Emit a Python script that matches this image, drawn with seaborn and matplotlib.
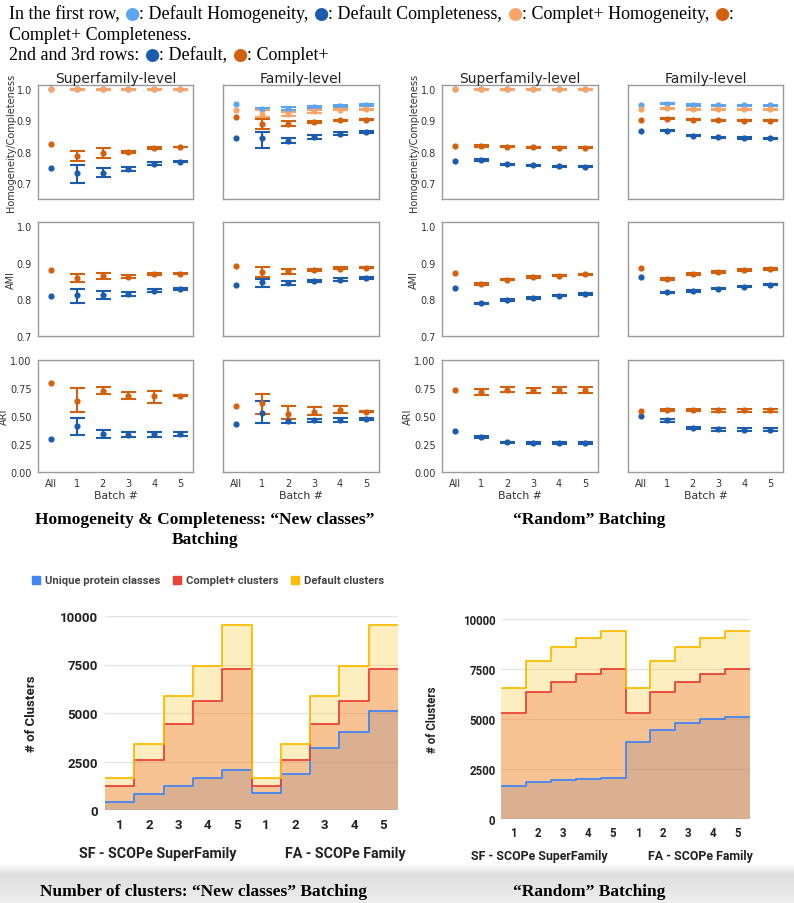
import numpy as np
import matplotlib
matplotlib.use("Agg")
import matplotlib.pyplot as plt
import seaborn as sns
from matplotlib.transforms import IdentityTransform
from matplotlib.patches import Rectangle
from matplotlib.font_manager import FontProperties

sns.set_theme(style="white")
plt.rcParams["font.family"] = ["DejaVu Sans"]

# ---------------- data ----------------
BATCHES = ["All", "1", "2", "3", "4", "5"]

# Row 1 series order: Default Homogeneity, Complet+ Homogeneity, Complet+ Completeness, Default Completeness
NEW_SF_HC_MEAN = [[1.0, 1.0, 1.0, 1.0, 1.0, 1.0],
                  [1.0, 1.0, 1.0, 1.0, 1.0, 1.0],
                  [0.826, 0.786, 0.798, 0.799, 0.812, 0.815],
                  [0.750, 0.733, 0.733, 0.745, 0.762, 0.769]]
NEW_SF_HC_LO = [[0.9985] * 5, [0.9985] * 5,
                [0.770, 0.781, 0.795, 0.809, 0.814],
                [0.700, 0.720, 0.739, 0.757, 0.767]]
NEW_SF_HC_HI = [[1.0] * 5, [1.0] * 5,
                [0.802, 0.811, 0.804, 0.815, 0.817],
                [0.758, 0.750, 0.753, 0.767, 0.771]]

NEW_FA_HC_MEAN = [[0.953, 0.936, 0.938, 0.944, 0.946, 0.948],
                  [0.934, 0.920, 0.921, 0.930, 0.934, 0.936],
                  [0.912, 0.889, 0.890, 0.895, 0.901, 0.902],
                  [0.843, 0.843, 0.836, 0.848, 0.858, 0.863]]
NEW_FA_HC_LO = [[0.932, 0.933, 0.941, 0.944, 0.946],
                [0.910, 0.914, 0.925, 0.932, 0.934],
                [0.874, 0.883, 0.893, 0.898, 0.901],
                [0.813, 0.828, 0.841, 0.854, 0.861]]
NEW_FA_HC_HI = [[0.940, 0.943, 0.947, 0.949, 0.951],
                [0.933, 0.928, 0.934, 0.937, 0.938],
                [0.904, 0.898, 0.897, 0.903, 0.904],
                [0.864, 0.845, 0.854, 0.862, 0.865]]

RAND_SF_HC_MEAN = [[1.0, 1.0, 1.0, 1.0, 1.0, 1.0],
                   [1.0, 1.0, 1.0, 1.0, 1.0, 1.0],
                   [0.818, 0.819, 0.816, 0.814, 0.813, 0.813],
                   [0.771, 0.774, 0.761, 0.757, 0.754, 0.753]]
RAND_SF_HC_LO = [[0.9985] * 5, [0.9985] * 5,
                 [0.817, 0.814, 0.812, 0.811, 0.811],
                 [0.772, 0.759, 0.755, 0.752, 0.751]]
RAND_SF_HC_HI = [[1.0] * 5, [1.0] * 5,
                 [0.821, 0.818, 0.816, 0.815, 0.815],
                 [0.776, 0.763, 0.759, 0.756, 0.755]]

RAND_FA_HC_MEAN = [[0.950, 0.953, 0.949, 0.948, 0.948, 0.948],
                   [0.936, 0.939, 0.936, 0.936, 0.936, 0.936],
                   [0.903, 0.906, 0.902, 0.900, 0.899, 0.899],
                   [0.865, 0.868, 0.852, 0.847, 0.844, 0.843]]
RAND_FA_HC_LO = [[0.951, 0.947, 0.946, 0.946, 0.946],
                 [0.937, 0.934, 0.934, 0.934, 0.934],
                 [0.904, 0.900, 0.898, 0.897, 0.897],
                 [0.866, 0.850, 0.845, 0.842, 0.841]]
RAND_FA_HC_HI = [[0.955, 0.951, 0.950, 0.950, 0.950],
                 [0.941, 0.938, 0.938, 0.938, 0.938],
                 [0.908, 0.904, 0.902, 0.901, 0.901],
                 [0.870, 0.854, 0.849, 0.846, 0.845]]

# Rows 2 and 3 series order: Default, Complet+
NEW_SF_AMI_MEAN = [[0.809, 0.812, 0.812, 0.815, 0.824, 0.828],
                   [0.879, 0.857, 0.864, 0.862, 0.869, 0.870]]
NEW_SF_AMI_LO = [[0.790, 0.802, 0.810, 0.821, 0.826],
                 [0.846, 0.855, 0.859, 0.866, 0.869]]
NEW_SF_AMI_HI = [[0.829, 0.824, 0.820, 0.827, 0.830],
                 [0.870, 0.873, 0.866, 0.872, 0.871]]

NEW_FA_AMI_MEAN = [[0.840, 0.846, 0.845, 0.849, 0.854, 0.858],
                   [0.891, 0.874, 0.876, 0.880, 0.884, 0.886]]
NEW_FA_AMI_LO = [[0.833, 0.840, 0.846, 0.851, 0.856],
                 [0.860, 0.869, 0.877, 0.882, 0.885]]
NEW_FA_AMI_HI = [[0.856, 0.851, 0.852, 0.857, 0.860],
                 [0.888, 0.883, 0.883, 0.887, 0.887]]

RAND_SF_AMI_MEAN = [[0.830, 0.789, 0.798, 0.804, 0.810, 0.814],
                    [0.872, 0.842, 0.854, 0.861, 0.865, 0.868]]
RAND_SF_AMI_LO = [[0.787, 0.796, 0.802, 0.808, 0.812],
                  [0.840, 0.852, 0.859, 0.863, 0.866]]
RAND_SF_AMI_HI = [[0.791, 0.800, 0.806, 0.812, 0.816],
                  [0.844, 0.856, 0.863, 0.867, 0.870]]

RAND_FA_AMI_MEAN = [[0.860, 0.819, 0.823, 0.829, 0.835, 0.840],
                    [0.886, 0.856, 0.869, 0.875, 0.880, 0.883]]
RAND_FA_AMI_LO = [[0.817, 0.821, 0.827, 0.833, 0.838],
                  [0.854, 0.867, 0.873, 0.878, 0.881]]
RAND_FA_AMI_HI = [[0.821, 0.825, 0.831, 0.837, 0.842],
                  [0.858, 0.871, 0.877, 0.882, 0.885]]

NEW_SF_ARI_MEAN = [[0.297, 0.414, 0.335, 0.330, 0.335, 0.340],
                   [0.797, 0.637, 0.725, 0.682, 0.675, 0.683]]
NEW_SF_ARI_LO = [[0.330, 0.300, 0.310, 0.310, 0.325],
                 [0.535, 0.695, 0.648, 0.615, 0.679]]
NEW_SF_ARI_HI = [[0.480, 0.375, 0.355, 0.360, 0.355],
                 [0.750, 0.755, 0.713, 0.720, 0.688]]

NEW_FA_ARI_MEAN = [[0.432, 0.530, 0.455, 0.460, 0.465, 0.475],
                   [0.586, 0.615, 0.520, 0.535, 0.550, 0.540]]
NEW_FA_ARI_LO = [[0.440, 0.435, 0.450, 0.450, 0.465],
                 [0.515, 0.475, 0.505, 0.525, 0.535]]
NEW_FA_ARI_HI = [[0.630, 0.475, 0.475, 0.480, 0.485],
                 [0.695, 0.590, 0.580, 0.585, 0.545]]

RAND_SF_ARI_MEAN = [[0.366, 0.313, 0.265, 0.256, 0.257, 0.258],
                    [0.732, 0.712, 0.730, 0.728, 0.733, 0.733]]
RAND_SF_ARI_LO = [[0.305, 0.258, 0.248, 0.249, 0.250],
                  [0.690, 0.710, 0.705, 0.705, 0.705]]
RAND_SF_ARI_HI = [[0.321, 0.272, 0.264, 0.265, 0.266],
                  [0.737, 0.755, 0.752, 0.760, 0.762]]

RAND_FA_ARI_MEAN = [[0.497, 0.460, 0.393, 0.380, 0.378, 0.378],
                    [0.545, 0.552, 0.552, 0.550, 0.550, 0.550]]
RAND_FA_ARI_LO = [[0.450, 0.380, 0.368, 0.366, 0.366],
                  [0.542, 0.542, 0.540, 0.540, 0.540]]
RAND_FA_ARI_HI = [[0.470, 0.405, 0.392, 0.390, 0.390],
                  [0.560, 0.560, 0.560, 0.560, 0.560]]

# Number of clusters (SF batches 1-5, then FA batches 1-5)
STEP_LABELS = ["1", "2", "3", "4", "5", "1", "2", "3", "4", "5"]
NEW_UNIQUE = [414, 828, 1224, 1638, 2069, 896, 1879, 3172, 4034, 5086]
NEW_COMPLET = [1241, 2552, 4448, 5638, 7259, 1241, 2552, 4448, 5638, 7259]
NEW_DEFAULT = [1638, 3379, 5896, 7448, 9534, 1638, 3379, 5896, 7448, 9534]
RAND_UNIQUE = [1633, 1850, 1967, 2017, 2067, 3850, 4467, 4800, 4983, 5100]
RAND_COMPLET = [5300, 6333, 6867, 7233, 7500, 5300, 6333, 6867, 7233, 7500]
RAND_DEFAULT = [6550, 7900, 8617, 9067, 9400, 6550, 7900, 8617, 9067, 9400]

# ---------------- styling ----------------
C_DH = "#5da4f1"   # Default Homogeneity
C_CH = "#fba468"   # Complet+ Homogeneity
C_CC = "#d3600d"   # Complet+ Completeness / Complet+
C_DC = "#1b5cae"   # Default Completeness / Default
G_BLUE, G_RED, G_YEL = "#4285f4", "#ea4335", "#fbbc04"

W, H = 794, 904
fig = plt.figure(figsize=(W / 100, H / 100), dpi=100)
fig.patch.set_facecolor("white")


def rect(x0, y0, x1, y1):
    return [x0 / W, 1 - y1 / H, (x1 - x0) / W, (y1 - y0) / H]


# soft grey band at the very bottom (screenshot shading)
bg = fig.add_axes(rect(0, 864, W, H), zorder=-5)
grad = np.concatenate([np.linspace(0, 1, 12), np.linspace(1, 0.55, 28)])[:, None]
bg.imshow(1 - 0.13 * grad, cmap="gray", vmin=0, vmax=1, aspect="auto",
          extent=[0, 1, 0, 1], origin="upper")
bg.set_axis_off()

COLS = [(38, 193), (223, 379), (442, 598), (628, 783)]
ROWS = [(86, 200), (223, 337), (361, 473)]
YLIMS = [(0.65, 1.013), (0.70, 1.011), (0.0, 1.0)]
YTICKS = [[0.7, 0.8, 0.9, 1.0], [0.7, 0.8, 0.9, 1.0], [0.0, 0.25, 0.5, 0.75, 1.0]]
YFMT = ["{:.1f}", "{:.1f}", "{:.2f}"]
YLABELS = ["Homogeneity/Completeness", "AMI", "ARI"]
YLAB_X = [-0.145, -0.145, -0.186]

PANEL_DATA = {
    (0, 0): (NEW_SF_HC_MEAN, NEW_SF_HC_LO, NEW_SF_HC_HI),
    (0, 1): (NEW_FA_HC_MEAN, NEW_FA_HC_LO, NEW_FA_HC_HI),
    (0, 2): (RAND_SF_HC_MEAN, RAND_SF_HC_LO, RAND_SF_HC_HI),
    (0, 3): (RAND_FA_HC_MEAN, RAND_FA_HC_LO, RAND_FA_HC_HI),
    (1, 0): (NEW_SF_AMI_MEAN, NEW_SF_AMI_LO, NEW_SF_AMI_HI),
    (1, 1): (NEW_FA_AMI_MEAN, NEW_FA_AMI_LO, NEW_FA_AMI_HI),
    (1, 2): (RAND_SF_AMI_MEAN, RAND_SF_AMI_LO, RAND_SF_AMI_HI),
    (1, 3): (RAND_FA_AMI_MEAN, RAND_FA_AMI_LO, RAND_FA_AMI_HI),
    (2, 0): (NEW_SF_ARI_MEAN, NEW_SF_ARI_LO, NEW_SF_ARI_HI),
    (2, 1): (NEW_FA_ARI_MEAN, NEW_FA_ARI_LO, NEW_FA_ARI_HI),
    (2, 2): (RAND_SF_ARI_MEAN, RAND_SF_ARI_LO, RAND_SF_ARI_HI),
    (2, 3): (RAND_FA_ARI_MEAN, RAND_FA_ARI_LO, RAND_FA_ARI_HI),
}

for (r, c), (means, los, his) in PANEL_DATA.items():
    x0, x1 = COLS[c]
    y0, y1 = ROWS[r]
    ax = fig.add_axes(rect(x0, y0, x1, y1))
    colors = [C_DH, C_CH, C_CC, C_DC] if r == 0 else [C_DC, C_CC]
    xs = np.arange(len(BATCHES))
    for m, lo, hi, col in zip(means, los, his, colors):
        m = np.asarray(m, float)
        lo = np.asarray(lo, float)
        hi = np.asarray(hi, float)
        ax.errorbar(xs[1:], m[1:], yerr=[m[1:] - lo, hi - m[1:]], fmt="none",
                    ecolor=col, elinewidth=1.5, capsize=5.4, capthick=1.5, zorder=2)
        sns.scatterplot(x=xs, y=m, color=col, s=20, linewidth=0, ax=ax, zorder=3)
    ax.set_xlim(-0.5, 5.5)
    ax.set_ylim(*YLIMS[r])
    ax.set_xticks(xs)
    ax.set_yticks(YTICKS[r])
    ax.set_yticklabels([YFMT[r].format(v) for v in YTICKS[r]])
    for sp in ax.spines.values():
        sp.set_color("#9a9a9a")
        sp.set_linewidth(1.0)
    ax.tick_params(axis="both", labelsize=7.0, labelcolor="#333333", colors="#333333",
                   length=2.5, width=0.6, pad=2)
    if r == 2:
        ax.set_xticklabels(BATCHES)
        ax.set_xlabel("Batch #", fontsize=7.8, color="#333333", labelpad=1)
    else:
        ax.set_xticklabels([])
    if c in (1, 3):
        ax.tick_params(axis="y", left=False, labelleft=False)
    else:
        ax.set_ylabel(YLABELS[r], fontsize=7, color="#333333")
        ax.yaxis.set_label_coords(YLAB_X[r], 0.5)
    if r == 0:
        ax.set_title("Superfamily-level" if c in (0, 2) else "Family-level",
                     fontsize=10, color="#222222", pad=1.5)

# ---------------- stepped area charts ----------------
def step_chart(ax, uniq, comp, deflt, fs, pad_x, pad_y):
    edges = np.arange(len(uniq) + 1) - 0.5
    for vals, col, a in [(uniq, G_BLUE, 0.3), (comp, G_RED, 0.3), (deflt, G_YEL, 0.25)]:
        v = np.r_[vals, vals[-1]]
        ax.fill_between(edges, v, step="post", color=col, alpha=a, lw=0, zorder=1)
    for vals, col in [(uniq, G_BLUE), (comp, G_RED), (deflt, G_YEL)]:
        v = np.r_[vals, vals[-1]]
        sns.lineplot(x=edges, y=v, drawstyle="steps-post", color=col, lw=1.3,
                     ax=ax, zorder=3)
    ax.set_xlim(-0.5, len(uniq) - 0.5)
    ax.set_ylim(0, 10000)
    ax.set_yticks([0, 2500, 5000, 7500, 10000])
    ax.set_xticks(np.arange(len(uniq)))
    ax.set_xticklabels(STEP_LABELS)
    for sp in ax.spines.values():
        sp.set_visible(False)
    ax.grid(axis="y", color="#e3e3e3", lw=0.9, zorder=0)
    ax.set_axisbelow(True)
    ax.axhline(0, color="#a0a0a0", lw=1.0, zorder=4)
    ax.tick_params(axis="both", length=0, labelsize=fs, labelcolor="#222222")
    ax.tick_params(axis="x", pad=pad_x)
    ax.tick_params(axis="y", pad=pad_y)
    for lab in ax.get_xticklabels() + ax.get_yticklabels():
        lab.set_fontfamily("Roboto")
        lab.set_fontweight("bold")
    ax.set_xlabel("")


axl = fig.add_axes(rect(105, 617, 398, 811))
step_chart(axl, NEW_UNIQUE, NEW_COMPLET, NEW_DEFAULT, 9.5, 6, 5)
axl.set_ylabel("# of Clusters", fontsize=9.5, fontweight="bold", family="Roboto", color="#222222")
axl.yaxis.set_label_coords(-0.229, 0.5)

axr = fig.add_axes(rect(501, 620, 750, 820))
step_chart(axr, RAND_UNIQUE, RAND_COMPLET, RAND_DEFAULT, 8.3, 5, 4)
axr.set_ylabel("# of Clusters", fontsize=8.3, fontweight="bold", family="Roboto", color="#222222")
axr.yaxis.set_label_coords(-0.25, 0.5)


def ftext(x, y, s, **kw):
    return fig.text(x / W, 1 - y / H, s, **kw)


grp_kw = dict(family="Roboto", fontweight="bold", color="#222222", ha="center", va="center")
ftext(158, 854, "SF - SCOPe SuperFamily", fontsize=10.3, **grp_kw)
ftext(345, 854, "FA - SCOPe Family", fontsize=10.3, **grp_kw)
ftext(539, 857, "SF - SCOPe SuperFamily", fontsize=8.9, **grp_kw)
ftext(700, 857, "FA - SCOPe Family", fontsize=8.9, **grp_kw)

# legend for the stepped charts
leg_items = [(32, G_BLUE, "Unique protein classes"), (173, G_RED, "Complet+ clusters"),
             (291, G_YEL, "Default clusters")]
for lx, col, lab in leg_items:
    fig.patches.append(Rectangle((lx / W, 1 - 585 / H), 8 / W, 8 / H, color=col,
                                 transform=fig.transFigure, figure=fig))
    ftext(lx + 13, 581, lab, fontsize=8.1, family="Roboto", fontweight="bold",
          color="#444444", ha="left", va="center")

# ---------------- captions ----------------
cap_kw = dict(family="Liberation Serif", fontweight="bold", fontsize=12.5, color="black",
              ha="center", va="center")
ftext(205, 520, "Homogeneity & Completeness: \u201cNew classes\u201d", **cap_kw)
ftext(205, 540, "Batching", **cap_kw)
ftext(589, 520, "\u201cRandom\u201d Batching", **cap_kw)
ftext(203, 892, "Number of clusters: \u201cNew classes\u201d Batching", **cap_kw)
ftext(589, 892, "\u201cRandom\u201d Batching", **cap_kw)

# ---------------- header text with coloured dots ----------------
renderer = fig.canvas.get_renderer()
FP_TXT = FontProperties(family="Liberation Serif", size=13)
FP_DOT = FontProperties(family="DejaVu Sans", size=12.5)


def twidth(s, fp):
    a = renderer.get_text_width_height_descent(s + "|", fp, False)[0]
    b = renderer.get_text_width_height_descent("|", fp, False)[0]
    return a - b


def rich(x, y, segs):
    for s, col in segs:
        fp = FP_TXT if col is None else FP_DOT
        fig.text(x, H - y, s, transform=IdentityTransform(), fontproperties=fp,
                 color="black" if col is None else col, va="baseline", ha="left")
        x += twidth(s, fp)


rich(9, 19, [("In the first row, ", None), ("\u25cf", C_DH), (": Default Homogeneity, ", None),
             ("\u25cf", C_DC), (": Default Completeness, ", None), ("\u25cf", C_CH),
             (": Complet+ Homogeneity, ", None), ("\u25cf", C_CC), (":", None)])
rich(9, 40, [("Complet+ Completeness.", None)])
rich(9, 60, [("2nd and 3rd rows: ", None), ("\u25cf", C_DC), (": Default, ", None),
             ("\u25cf", C_CC), (": Complet+", None)])

fig.savefig("out.png", dpi=100, facecolor="white")
